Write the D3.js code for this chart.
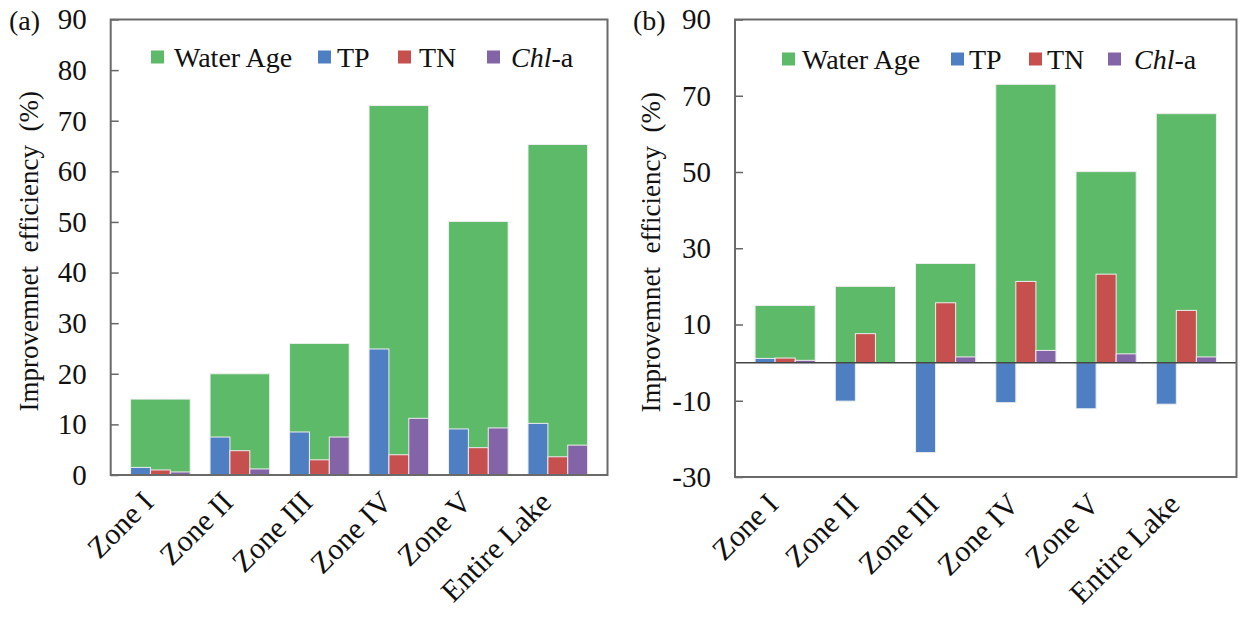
<!DOCTYPE html>
<html>
<head>
<meta charset="utf-8">
<script src="https://cdn.jsdelivr.net/npm/d3@7"></script>
<style>
  html, body { margin: 0; padding: 0; background: #fff; }
</style>
</head>
<body>
<svg id="chart" width="1243" height="621"></svg>
<script>
// Zones along the lake
const zones = ["Zone I", "Zone II", "Zone III", "Zone IV", "Zone V", "Entire Lake"];

// Panel (a): improvement efficiency (%)
const waterAgeA = [15.0, 20.0, 26.0, 73.0, 50.1, 65.3];
const tpA       = [1.5, 7.5, 8.5, 24.9, 9.1, 10.2];
const tnA       = [1.0, 4.8, 3.0, 4.0, 5.4, 3.6];
const chlA      = [0.6, 1.2, 7.5, 11.2, 9.3, 5.9];

// Panel (b): improvement efficiency (%)
const waterAgeB = [15.0, 20.0, 26.0, 73.0, 50.1, 65.3];
const tpB       = [1.1, -10.1, -23.6, -10.5, -12.1, -10.9];
const tnB       = [1.2, 7.6, 15.7, 21.3, 23.2, 13.7];
const chlB      = [0.6, 0.0, 1.5, 3.2, 2.3, 1.5];

// Axis ticks
const ticksA = [0, 10, 20, 30, 40, 50, 60, 70, 80, 90];
const ticksB = [-30, -10, 10, 30, 50, 70, 90];

const seriesNames = ["TP", "TN", "Chl-a"];
const colors = { water: "#5dba69", TP: "#4e7fc2", TN: "#c6504d", "Chl-a": "#8364a6" };

const SERIF = "'Liberation Serif', 'Times New Roman', Times, 'DejaVu Serif', serif";
const svg = d3.select("#chart").attr("font-family", SERIF);
const FONT = 28;

function panel(opts) {
  const { left, right, top, bottom, domain, ticks, water, small, tag, tagX, titleX, legend } = opts;
  const g = svg.append("g");

  const x = d3.scaleBand().domain(zones).range([left, right]).padding(0.25);
  const xs = d3.scaleBand().domain(seriesNames).range([0, x.bandwidth()]).padding(0);
  const y = d3.scaleLinear().domain(domain).range([bottom, top]);

  // Water age bars (wide, behind)
  g.append("g").selectAll("rect").data(zones).join("rect")
    .attr("x", d => x(d))
    .attr("width", x.bandwidth())
    .attr("y", (d, i) => y(Math.max(0, water[i])))
    .attr("height", (d, i) => Math.abs(y(water[i]) - y(0)))
    .attr("fill", colors.water)
    .attr("stroke", "#eeeeee").attr("stroke-width", 1);

  // Water-quality bars (narrow, in front)
  seriesNames.forEach((s, si) => {
    g.append("g").selectAll("rect").data(zones).join("rect")
      .attr("x", d => x(d) + xs(s))
      .attr("width", xs.bandwidth())
      .attr("y", (d, i) => y(Math.max(0, small[si][i])))
      .attr("height", (d, i) => Math.abs(y(small[si][i]) - y(0)))
      .attr("fill", colors[s])
      .attr("stroke", "#eeeeee").attr("stroke-width", 1);
  });

  // Zero line when the axis spans negative values
  if (domain[0] < 0) {
    g.append("line")
      .attr("x1", left).attr("x2", right)
      .attr("y1", y(0)).attr("y2", y(0))
      .attr("stroke", "#444").attr("stroke-width", 1.5);
  }

  // Y axis with inward ticks
  const ya = g.append("g").attr("transform", `translate(${left},0)`)
    .call(d3.axisLeft(y).tickValues(ticks).tickSize(-8).tickPadding(24).tickFormat(d => String(d)));
  ya.attr("font-family", SERIF).attr("font-size", FONT + 1);
  ya.select(".domain").remove();
  ya.selectAll("line").attr("stroke", "#666").attr("stroke-width", 1.5);
  ya.selectAll("text").attr("fill", "#111");

  // X axis, rotated category labels
  const xa = g.append("g").attr("transform", `translate(0,${bottom})`)
    .call(d3.axisBottom(x).tickSize(0).tickPadding(0));
  xa.attr("font-family", SERIF).attr("font-size", FONT + 2);
  xa.select(".domain").remove();
  xa.selectAll("text")
    .attr("fill", "#111")
    .attr("text-anchor", "end")
    .attr("dy", 0)
    .attr("y", 0)
    .attr("transform", "translate(-5,29) rotate(-45)");

  // Plot frame
  g.append("rect")
    .attr("x", left).attr("y", top)
    .attr("width", right - left).attr("height", bottom - top)
    .attr("fill", "none").attr("stroke", "#6a6a6a").attr("stroke-width", 2);

  // Y axis title
  g.append("text")
    .attr("transform", `translate(${titleX},${(top + bottom) / 2 + 4}) rotate(-90)`)
    .attr("text-anchor", "middle")
    .attr("font-size", FONT - 1)
    .attr("fill", "#111")
    .style("white-space", "pre")
    .text("Improvemnet  efficiency  (%)");

  // Panel tag
  g.append("text").attr("x", tagX).attr("y", 30).attr("font-size", FONT).attr("fill", "#111").text(tag);

  // Legend
  const items = [
    { key: "water", label: "Water Age" },
    { key: "TP", label: "TP" },
    { key: "TN", label: "TN" },
    { key: "Chl-a", label: "Chl-a" }
  ];
  items.forEach((it, i) => {
    const lx = legend.xs[i];
    g.append("rect")
      .attr("x", lx).attr("y", legend.y - 6.5)
      .attr("width", 13).attr("height", 13)
      .attr("fill", colors[it.key]);
    const t = g.append("text")
      .attr("x", legend.tx[i]).attr("y", legend.y)
      .attr("dy", "0.35em")
      .attr("fill", "#111")
      .attr("font-size", FONT);
    if (it.key === "Chl-a") {
      t.append("tspan").attr("font-style", "italic").text("Chl");
      t.append("tspan").text("-a");
    } else {
      t.text(it.label);
    }
  });
}

panel({
  left: 110.7, right: 607.5, top: 19.5, bottom: 475,
  domain: [0, 90], ticks: ticksA,
  water: waterAgeA, small: [tpA, tnA, chlA],
  tag: "(a)", tagX: 9, titleX: 38,
  legend: { y: 57, xs: [151, 318, 398, 487], tx: [174, 337, 419, 511] }
});

panel({
  left: 735, right: 1236.5, top: 19.5, bottom: 477,
  domain: [-30, 90], ticks: ticksB,
  water: waterAgeB, small: [tpB, tnB, chlB],
  tag: "(b)", tagX: 633, titleX: 660,
  legend: { y: 59, xs: [782, 951, 1029, 1108], tx: [802, 969, 1047, 1134] }
});
</script>
</body>
</html>
